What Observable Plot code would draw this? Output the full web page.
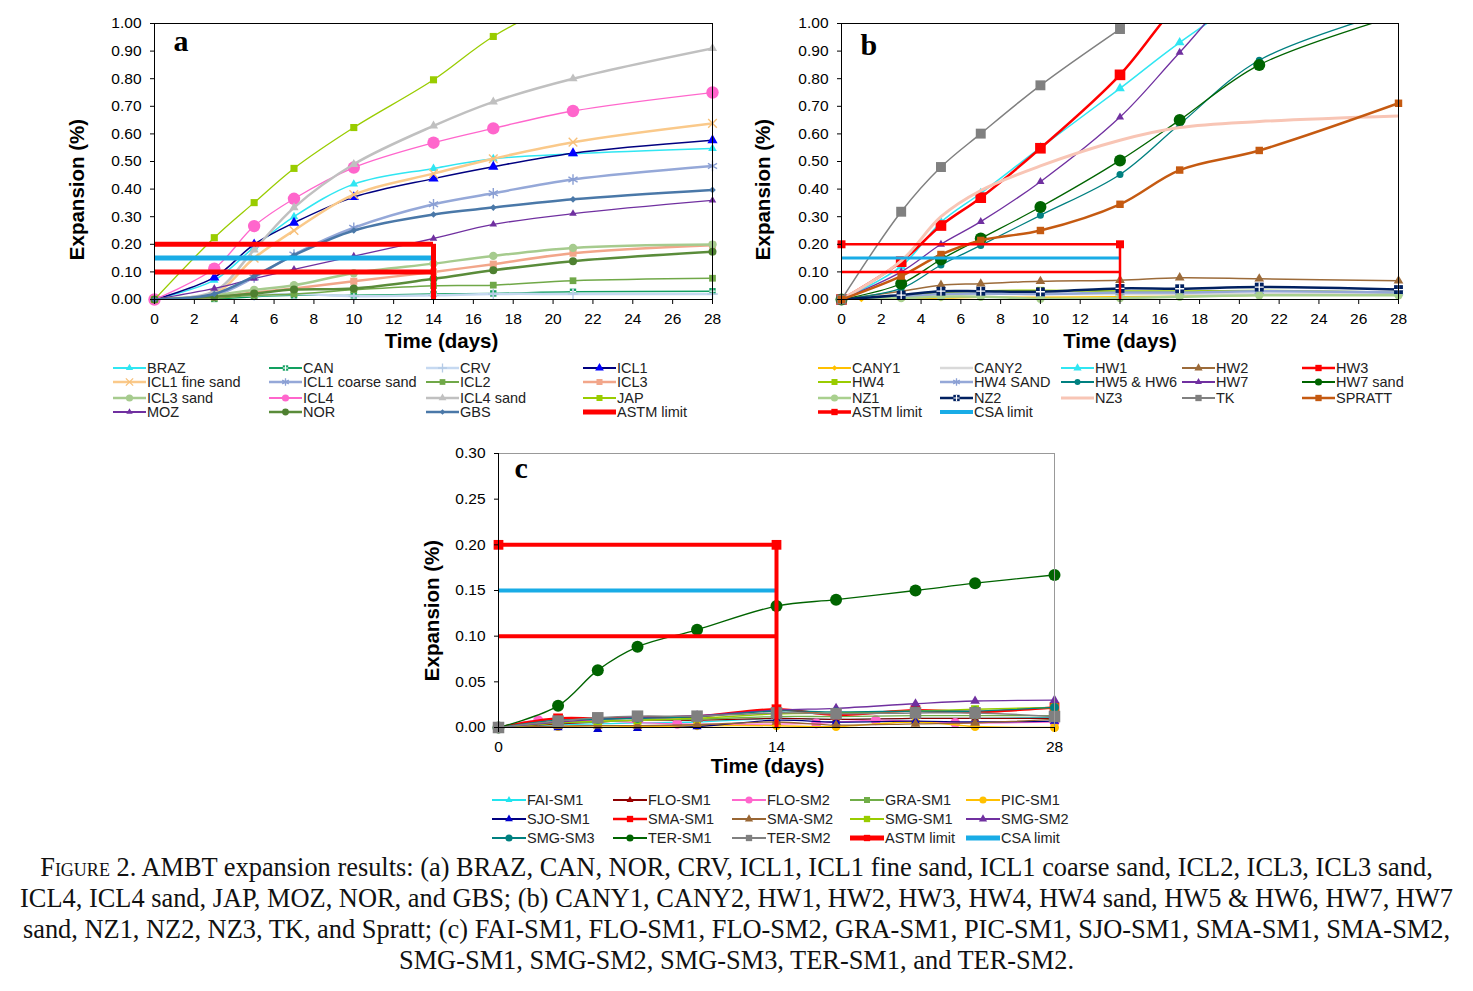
<!DOCTYPE html>
<html><head><meta charset="utf-8">
<script src="https://cdn.jsdelivr.net/npm/d3@7"></script>
<script src="https://cdn.jsdelivr.net/npm/@observablehq/plot@0.6"></script>
<style>
body{margin:0;background:#fff;}
#page{position:relative;width:1473px;height:991px;overflow:hidden;background:#fff;font-family:"Liberation Sans",Arial,sans-serif;}
.panel{position:absolute;}
.leg{position:absolute;font-size:14.5px;color:#222;white-space:nowrap;height:16px;line-height:16px;}
.leg svg{position:absolute;left:0;top:0;}
.leg span{position:absolute;top:0;}
#cap{position:absolute;left:0;top:852px;width:1473px;text-align:center;font-family:"Liberation Serif","Times New Roman",serif;font-size:26.4px;line-height:31px;color:#111;}
</style>
</head><body><div id="page"></div>
<script>
// ---------- shared ticks and limits ----------
const xTicksAB = [0, 2, 4, 6, 8, 10, 12, 14, 16, 18, 20, 22, 24, 26, 28];
const yTicksAB = [0, 0.1, 0.2, 0.3, 0.4, 0.5, 0.6, 0.7, 0.8, 0.9, 1.0];
const xTicksC = [0, 14, 28];
const yTicksC = [0, 0.05, 0.10, 0.15, 0.20, 0.25, 0.30];
const astmLimits = [0.10, 0.20];
const csaLimit = [0.15];
const limitStart = 0;
const limitDay = 14;

// ---------- panel a ----------
const daysA = [0, 3, 5, 7, 10, 14, 17, 21, 28];
const BRAZ        = [0, 0.070, 0.190, 0.300, 0.418, 0.475, 0.510, 0.528, 0.547];
const CAN         = [0, 0.002, 0.010, 0.015, 0.015, 0.020, 0.022, 0.028, 0.030];
const CRV         = [0, 0.010, 0.015, 0.020, 0.012, 0.015, 0.020, 0.020, 0.020];
const ICL1        = [0, 0.080, 0.200, 0.278, 0.371, 0.438, 0.481, 0.530, 0.577];
const ICL1_fine   = [0, 0.020, 0.150, 0.250, 0.380, 0.456, 0.510, 0.570, 0.638];
const ICL1_coarse = [0, 0.015, 0.080, 0.163, 0.260, 0.345, 0.385, 0.435, 0.484];
const ICL2        = [0, 0.005, 0.015, 0.020, 0.035, 0.050, 0.052, 0.068, 0.077];
const ICL3        = [0, 0.010, 0.025, 0.040, 0.066, 0.100, 0.128, 0.168, 0.197];
const ICL3_sand   = [0, 0.015, 0.035, 0.052, 0.095, 0.130, 0.158, 0.187, 0.199];
const ICL4        = [0, 0.112, 0.266, 0.365, 0.478, 0.568, 0.620, 0.683, 0.750];
const ICL4_sand   = [0, 0.030, 0.180, 0.333, 0.490, 0.629, 0.716, 0.800, 0.910];
const JAP         = [0, 0.224, 0.351, 0.475, 0.623, 0.796, 0.953, 1.100, 1.300];
const MOZ         = [0, 0.040, 0.076, 0.109, 0.157, 0.221, 0.272, 0.311, 0.359];
const NOR         = [0, 0.010, 0.022, 0.036, 0.040, 0.075, 0.106, 0.139, 0.173];
const GBS         = [0, 0.020, 0.085, 0.160, 0.250, 0.308, 0.333, 0.363, 0.397];

// ---------- panel b ----------
const daysB = [0, 3, 5, 7, 10, 14, 17, 21, 28];
const daysCANY1 = [0, 1, 3, 5, 7, 10, 14, 17, 21, 28];
const daysTK = [0, 3, 5, 7, 10, 14];
const CANY1    = [0, 0.002, 0.004, 0.005, 0.008, 0.008, 0.010, 0.012, 0.015, 0.015];
const CANY2    = [0, 0.010, 0.015, 0.020, 0.020, 0.020, 0.020, 0.020, 0.020];
const HW1      = [0, 0.120, 0.280, 0.385, 0.550, 0.765, 0.931, 1.120, 1.350];
const HW2      = [0, 0.030, 0.052, 0.057, 0.066, 0.070, 0.079, 0.075, 0.068];
const HW3      = [0, 0.137, 0.268, 0.369, 0.548, 0.814, 1.080, 1.350, 1.700];
const HW4      = [0, 0.010, 0.025, 0.030, 0.033, 0.030, 0.030, 0.032, 0.025];
const HW4_SAND = [0, 0.010, 0.020, 0.022, 0.020, 0.025, 0.025, 0.030, 0.025];
const HW5_HW6  = [0, 0.040, 0.125, 0.196, 0.305, 0.453, 0.635, 0.867, 1.050];
const HW7      = [0, 0.100, 0.200, 0.282, 0.427, 0.661, 0.895, 1.200, 1.500];
const HW7_sand = [0, 0.057, 0.145, 0.221, 0.335, 0.504, 0.650, 0.850, 1.030];
const NZ1      = [0, 0.005, 0.010, 0.010, 0.003, 0.005, 0.010, 0.015, 0.015];
const NZ2      = [0, 0.016, 0.030, 0.030, 0.028, 0.040, 0.039, 0.045, 0.036];
const NZ3      = [0, 0.140, 0.300, 0.395, 0.484, 0.577, 0.623, 0.645, 0.665];
const TK       = [0, 0.318, 0.480, 0.601, 0.776, 0.980];
const SPRATT   = [0, 0.085, 0.163, 0.214, 0.250, 0.345, 0.469, 0.540, 0.711];

// ---------- panel c ----------
const daysC = [0, 3, 5, 7, 10, 14, 17, 21, 24, 28];
const daysFLO2 = [0, 2, 9, 16, 19, 23, 28];
const FAI_SM1 = [0, 0.003, 0.004, 0.005, 0.006, 0.010, 0.009, 0.010, 0.010, 0.011];
const FLO_SM1 = [0, 0.004, 0.006, 0.008, 0.008, 0.010, 0.009, 0.010, 0.010, 0.010];
const FLO_SM2 = [0, 0.008, 0.004, 0.0045, 0.008, 0.005, 0.006];
const GRA_SM1 = [0, 0.005, 0.006, 0.008, 0.009, 0.012, 0.012, 0.013, 0.013, 0.013];
const PIC_SM1 = [0, 0.001, 0.002, 0.001, 0.002, 0.002, 0.001, 0.006, 0.001, 0.000];
const SJO_SM1 = [0, 0.000, -0.002, -0.001, 0.001, 0.008, 0.006, 0.007, 0.006, 0.007];
const SMA_SM1 = [0, 0.010, 0.010, 0.011, 0.012, 0.020, 0.014, 0.019, 0.017, 0.022];
const SMA_SM2 = [0, 0.0015, 0.002, 0.002, 0.003, 0.006, 0.0026, 0.004, 0.005, 0.009];
const SMG_SM1 = [0, 0.005, 0.007, 0.008, 0.010, 0.015, 0.016, 0.018, 0.020, 0.022];
const SMG_SM2 = [0, 0.006, 0.009, 0.011, 0.013, 0.019, 0.021, 0.026, 0.029, 0.030];
const SMG_SM3 = [0, 0.008, 0.009, 0.010, 0.012, 0.018, 0.017, 0.018, 0.018, 0.022];
const TER_SM1 = [0, 0.0237, 0.0628, 0.0883, 0.107, 0.133, 0.140, 0.150, 0.158, 0.167];
const TER_SM2 = [0, 0.007, 0.0106, 0.0124, 0.0124, 0.016, 0.015, 0.016, 0.016, 0.012];

// ---------- series lists ----------
const seriesA = [
  {name: "BRAZ", days: daysA, values: BRAZ},
  {name: "CAN", days: daysA, values: CAN},
  {name: "CRV", days: daysA, values: CRV},
  {name: "ICL1", days: daysA, values: ICL1},
  {name: "ICL1 fine sand", days: daysA, values: ICL1_fine},
  {name: "ICL1 coarse sand", days: daysA, values: ICL1_coarse},
  {name: "ICL2", days: daysA, values: ICL2},
  {name: "ICL3", days: daysA, values: ICL3},
  {name: "ICL3 sand", days: daysA, values: ICL3_sand},
  {name: "ICL4", days: daysA, values: ICL4},
  {name: "ICL4 sand", days: daysA, values: ICL4_sand},
  {name: "JAP", days: daysA, values: JAP},
  {name: "MOZ", days: daysA, values: MOZ},
  {name: "NOR", days: daysA, values: NOR},
  {name: "GBS", days: daysA, values: GBS}
];
const seriesB = [
  {name: "CANY1", days: daysCANY1, values: CANY1},
  {name: "CANY2", days: daysB, values: CANY2},
  {name: "HW1", days: daysB, values: HW1},
  {name: "HW2", days: daysB, values: HW2},
  {name: "HW3", days: daysB, values: HW3},
  {name: "HW4", days: daysB, values: HW4},
  {name: "HW4 SAND", days: daysB, values: HW4_SAND},
  {name: "HW5 & HW6", days: daysB, values: HW5_HW6},
  {name: "HW7", days: daysB, values: HW7},
  {name: "HW7 sand", days: daysB, values: HW7_sand},
  {name: "NZ1", days: daysB, values: NZ1},
  {name: "NZ2", days: daysB, values: NZ2},
  {name: "NZ3", days: daysB, values: NZ3},
  {name: "TK", days: daysTK, values: TK},
  {name: "SPRATT", days: daysB, values: SPRATT}
];
const seriesC = [
  {name: "FAI-SM1", days: daysC, values: FAI_SM1},
  {name: "FLO-SM1", days: daysC, values: FLO_SM1},
  {name: "FLO-SM2", days: daysFLO2, values: FLO_SM2},
  {name: "GRA-SM1", days: daysC, values: GRA_SM1},
  {name: "PIC-SM1", days: daysC, values: PIC_SM1},
  {name: "SJO-SM1", days: daysC, values: SJO_SM1},
  {name: "SMA-SM1", days: daysC, values: SMA_SM1},
  {name: "SMA-SM2", days: daysC, values: SMA_SM2},
  {name: "SMG-SM1", days: daysC, values: SMG_SM1},
  {name: "SMG-SM2", days: daysC, values: SMG_SM2},
  {name: "SMG-SM3", days: daysC, values: SMG_SM3},
  {name: "TER-SM1", days: daysC, values: TER_SM1},
  {name: "TER-SM2", days: daysC, values: TER_SM2}
];

// ---------- styles ----------
const RED = "#FF0000", CSA = "#19ACE6";
const styleA = {
  "BRAZ": {line: "#30E6F2", fill: "#30E6F2", sym: "triangle", r: 3.2, w: 1.5},
  "CAN": {line: "#12A060", fill: "#12A060", sym: "square", r: 3.6, w: 1.5, cross: true},
  "CRV": {line: "#C6D9F1", fill: "#B5CBE6", sym: "plus", r: 3.5, w: 2.5},
  "ICL1": {line: "#000080", fill: "#0000FF", sym: "triangle", r: 3.8, w: 1.5},
  "ICL1 fine sand": {line: "#FAC98A", fill: "#F7C07A", sym: "times", r: 4, w: 2.5},
  "ICL1 coarse sand": {line: "#95A8D8", fill: "#8A9FD4", sym: "asterisk", r: 5, w: 2.5},
  "ICL2": {line: "#70A848", fill: "#70A848", sym: "square", r: 3.8, w: 1.5},
  "ICL3": {line: "#F2A68A", fill: "#F2A68A", sym: "square", r: 4, w: 2.5},
  "ICL3 sand": {line: "#A6CB8E", fill: "#A6CB8E", sym: "circle", r: 4.2, w: 2.5},
  "ICL4": {line: "#FF66CC", fill: "#FF66CC", sym: "circle", r: 6.2, w: 1.3},
  "ICL4 sand": {line: "#C0C0C0", fill: "#C0C0C0", sym: "triangle", r: 3.4, w: 2.5},
  "JAP": {line: "#99CC00", fill: "#99CC00", sym: "square", r: 4, w: 1.3},
  "MOZ": {line: "#7030A0", fill: "#7030A0", sym: "triangle", r: 2.8, w: 1.3},
  "NOR": {line: "#5A8C3A", fill: "#4E8030", sym: "circle", r: 4, w: 2.5},
  "GBS": {line: "#4A78A8", fill: "#4A78A8", sym: "diamond2", r: 3, w: 2.5},
  "ASTM limit": {line: RED, w: 5}
};
const styleB = {
  "CANY1": {line: "#FFC000", fill: "#FFC000", sym: "diamond2", r: 3, w: 1.5},
  "CANY2": {line: "#D9D9D9", w: 2.5},
  "HW1": {line: "#30E6F2", fill: "#30E6F2", sym: "triangle", r: 3.6, w: 1.5},
  "HW2": {line: "#9C6B3A", fill: "#9C6B3A", sym: "triangle", r: 3.6, w: 1.5},
  "HW3": {line: RED, fill: RED, sym: "square", r: 6, w: 2.5},
  "HW4": {line: "#99CC00", fill: "#99CC00", sym: "square", r: 4, w: 2},
  "HW4 SAND": {line: "#95A8D8", fill: "#8A9FD4", sym: "asterisk", r: 5, w: 2.5},
  "HW5 & HW6": {line: "#008080", fill: "#008080", sym: "circle", r: 3.5, w: 1.3},
  "HW7": {line: "#7030A0", fill: "#7030A0", sym: "triangle", r: 3, w: 1.3},
  "HW7 sand": {line: "#006400", fill: "#006400", sym: "circle", r: 6, w: 1.3},
  "NZ1": {line: "#A9D08E", fill: "#A9D08E", sym: "circle", r: 4.2, w: 2.5},
  "NZ2": {line: "#002060", fill: "#002060", sym: "square", r: 5, w: 2.5, cross: true},
  "NZ3": {line: "#F8C5B5", w: 3},
  "TK": {line: "#808080", fill: "#808080", sym: "square", r: 5.6, w: 1.5},
  "SPRATT": {line: "#C55A11", fill: "#C55A11", sym: "square", r: 4.2, w: 2.5},
  "ASTM limit": {line: RED, fill: RED, sym: "square", r: 4.5, w: 2.5},
  "CSA limit": {line: CSA, w: 3}
};
const styleC = {
  "FAI-SM1": {line: "#22E4EE", fill: "#22E4EE", sym: "triangle", r: 3, w: 1.3},
  "FLO-SM1": {line: "#8B0000", fill: "#A00000", sym: "triangle", r: 3, w: 1.3},
  "FLO-SM2": {line: "#FF66CC", fill: "#FF66CC", sym: "circle", r: 5, w: 1.3},
  "GRA-SM1": {line: "#70AD47", fill: "#70AD47", sym: "square", r: 4, w: 1.3},
  "PIC-SM1": {line: "#FFC000", fill: "#FFC000", sym: "circle", r: 4.5, w: 1.5},
  "SJO-SM1": {line: "#000080", fill: "#0000CC", sym: "triangle", r: 3.4, w: 1.3},
  "SMA-SM1": {line: RED, fill: RED, sym: "square", r: 5.5, w: 2.5},
  "SMA-SM2": {line: "#996633", fill: "#996633", sym: "triangle", r: 3.6, w: 1.3},
  "SMG-SM1": {line: "#99CC00", fill: "#99CC00", sym: "square", r: 4.5, w: 1.5},
  "SMG-SM2": {line: "#7030A0", fill: "#7030A0", sym: "triangle", r: 3.6, w: 1.3},
  "SMG-SM3": {line: "#008080", fill: "#008080", sym: "circle", r: 4.5, w: 1.3},
  "TER-SM1": {line: "#006400", fill: "#006400", sym: "circle", r: 6, w: 1.3},
  "TER-SM2": {line: "#808080", fill: "#808080", sym: "square", r: 6.5, w: 1.5},
  "ASTM limit": {line: RED, fill: RED, sym: "square", r: 5.5, w: 4},
  "CSA limit": {line: CSA, w: 4}
};

const STROKED = ["times", "asterisk", "plus"];
const FONT = "'Liberation Sans', Arial, sans-serif";

function makePanel(cfg) {
  const marks = [];
  for (const s of cfg.series) {
    const st = cfg.styles[s.name];
    const rows = s.days.map((d, i) => ({day: d, value: s.values[i]}));
    marks.push(Plot.line(rows, {x: "day", y: "value", stroke: st.line, strokeWidth: st.w, curve: "catmull-rom", clip: true}));
    if (st.sym) {
      const vis = rows.filter(r => r.value <= cfg.yMax);
      const stroked = STROKED.includes(st.sym);
      marks.push(Plot.dot(vis, {x: "day", y: "value", symbol: st.sym, r: st.r,
        fill: stroked ? "none" : st.fill, stroke: stroked ? st.fill : "none", strokeWidth: stroked ? 1.4 : 0}));
      if (st.cross) marks.push(Plot.dot(vis, {x: "day", y: "value", symbol: "plus", r: st.r * 0.6, stroke: "#fff", strokeWidth: 1.3}));
    }
  }
  // limits
  marks.push(Plot.ruleY(csaLimit, {y: d => d, x1: () => limitStart, x2: () => limitDay, stroke: CSA, strokeWidth: cfg.csaW}));
  marks.push(Plot.ruleY(astmLimits, {y: d => d, x1: () => limitStart, x2: () => limitDay, stroke: RED, strokeWidth: cfg.astmW}));
  marks.push(Plot.ruleX([limitDay], {x: d => d, y1: () => 0, y2: () => astmLimits[1], stroke: RED, strokeWidth: cfg.astmW}));
  if (cfg.astmDots) {
    marks.push(Plot.dot([limitStart, limitDay], {x: d => d, y: () => astmLimits[1], symbol: "square", r: cfg.astmDots, fill: RED}));
  }
  // frame & axes
  marks.push(Plot.frame({stroke: cfg.frameColor, strokeWidth: 1}));
  if (cfg.axisLines) {
    marks.push(Plot.ruleX([0], {stroke: "#000"}));
    marks.push(Plot.ruleY([0], {stroke: "#000"}));
  }
  marks.push(Plot.axisX({ticks: cfg.xTicks, tickSize: 5, tickPadding: 8, label: null, tickFormat: d => String(d)}));
  marks.push(Plot.axisY({ticks: cfg.yTicks, tickSize: 4, tickPadding: 9, label: null, tickFormat: d3.format(".2f")}));
  // titles
  marks.push(Plot.text(["Expansion (%)"], {frameAnchor: "left", rotate: -90, textAnchor: "middle", lineAnchor: "middle",
    dx: cfg.yLab[0], dy: cfg.yLab[1], fontSize: 20.5, fontWeight: "bold", fill: "#000"}));
  marks.push(Plot.text(["Time (days)"], {frameAnchor: "bottom", textAnchor: "middle", lineAnchor: "middle",
    dx: cfg.xLab[0], dy: cfg.xLab[1], fontSize: 20.5, fontWeight: "bold", fill: "#000"}));
  marks.push(Plot.text([cfg.letter], {frameAnchor: "top-left", textAnchor: "start", lineAnchor: "top",
    dx: cfg.let[0], dy: cfg.let[1], fontSize: 30, fontWeight: "bold", fontFamily: "'Liberation Serif', 'Times New Roman', serif", fill: "#000"}));

  const svg = Plot.plot({
    width: cfg.width, height: cfg.height,
    marginLeft: cfg.m[0], marginTop: cfg.m[1], marginRight: cfg.m[2], marginBottom: cfg.m[3],
    x: {domain: [0, 28]}, y: {domain: [0, cfg.yMax]},
    style: {fontFamily: FONT, fontSize: "15.5px", color: "#000", background: "transparent", overflow: "visible"},
    marks
  });
  const div = document.createElement("div");
  div.className = "panel";
  div.style.left = cfg.left + "px";
  div.style.top = cfg.top + "px";
  div.appendChild(svg);
  document.getElementById("page").appendChild(div);
}

makePanel({series: seriesA, styles: styleA, yMax: 1.0, xTicks: xTicksAB, yTicks: yTicksAB,
  left: 0, top: 0, width: 740, height: 352, m: [154, 23, 28, 53], frameColor: "#000", axisLines: false,
  astmW: 5, csaW: 5, astmDots: 0, yLab: [-77, 28], xLab: [8, 42], letter: "a", let: [19, 6]});
makePanel({series: seriesB, styles: styleB, yMax: 1.0, xTicks: xTicksAB, yTicks: yTicksAB,
  left: 740, top: 0, width: 733, height: 352, m: [101, 23, 75, 53], frameColor: "#000", axisLines: false,
  astmW: 2.5, csaW: 3, astmDots: 4.5, yLab: [-78, 28], xLab: [0, 42], letter: "b", let: [19, 10]});
makePanel({series: seriesC, styles: styleC, yMax: 0.30, xTicks: xTicksC, yTicks: yTicksC,
  left: 380, top: 440, width: 720, height: 340, m: [118, 13, 46, 53], frameColor: "#999", axisLines: true,
  astmW: 4, csaW: 4, astmDots: 5.5, yLab: [-66, 20], xLab: [-9, 39], letter: "c", let: [16, 3]});

// ---------- legends ----------
const legendA = ["BRAZ","CAN","CRV","ICL1","ICL1 fine sand","ICL1 coarse sand","ICL2","ICL3","ICL3 sand","ICL4","ICL4 sand","JAP","MOZ","NOR","GBS","ASTM limit"];
const legendB = ["CANY1","CANY2","HW1","HW2","HW3","HW4","HW4 SAND","HW5 & HW6","HW7","HW7 sand","NZ1","NZ2","NZ3","TK","SPRATT","ASTM limit","CSA limit"];
const legendC = ["FAI-SM1","FLO-SM1","FLO-SM2","GRA-SM1","PIC-SM1","SJO-SM1","SMA-SM1","SMA-SM2","SMG-SM1","SMG-SM2","SMG-SM3","TER-SM1","TER-SM2","ASTM limit","CSA limit"];
const SYM = {circle: d3.symbolCircle, square: d3.symbolSquare, triangle: d3.symbolTriangle, diamond2: d3.symbolDiamond2,
  times: d3.symbolTimes, asterisk: d3.symbolAsterisk, plus: d3.symbolPlus};

function makeLegend(names, styles, cols, rowY, swW) {
  const page = d3.select("#page");
  names.forEach((name, i) => {
    const st = styles[name];
    const c = i % cols.length, r = Math.floor(i / cols.length);
    const item = page.append("div").attr("class", "leg")
      .style("left", cols[c] + "px").style("top", (rowY[r] - 8) + "px");
    const svg = item.append("svg").attr("width", swW).attr("height", 16);
    const lw = name === "ASTM limit" || name === "CSA limit" ? Math.min(st.w + 1, 5) : Math.max(2, Math.min(st.w, 3));
    svg.append("line").attr("x1", 0).attr("x2", swW).attr("y1", 8).attr("y2", 8)
      .attr("stroke", st.line).attr("stroke-width", lw);
    if (st.sym) {
      const rr = Math.min(st.r, 4.2) * 0.85;
      const stroked = STROKED.includes(st.sym);
      svg.append("path").attr("transform", `translate(${swW / 2},8)`)
        .attr("d", d3.symbol(SYM[st.sym], Math.PI * rr * rr)())
        .attr("fill", stroked ? "none" : st.fill).attr("stroke", stroked ? st.fill : "none").attr("stroke-width", 1.3);
      if (st.cross) svg.append("path").attr("transform", `translate(${swW / 2},8)`)
        .attr("d", d3.symbol(d3.symbolPlus, Math.PI * rr * rr * 0.36)()).attr("stroke", "#fff").attr("stroke-width", 1.2).attr("fill", "none");
    }
    item.append("span").style("left", (swW + 1) + "px").text(name);
  });
}
makeLegend(legendA, styleA, [113, 269, 426, 583], [367.7, 382.3, 397.7, 412.3], 33);
makeLegend(legendB, styleB, [818, 940, 1061, 1182, 1302], [367.7, 382.3, 397.7, 412.3], 33);
makeLegend(legendC, styleC, [492, 613, 732, 850, 966], [800, 819, 838], 34);

// ---------- caption ----------
const cap = document.createElement("div");
cap.id = "cap";
cap.innerHTML = '<span style="font-variant:small-caps">Figure</span> 2. AMBT expansion results: (a) BRAZ, CAN, NOR, CRV, ICL1, ICL1 fine sand, ICL1 coarse sand, ICL2, ICL3, ICL3 sand,<br>' +
  'ICL4, ICL4 sand, JAP, MOZ, NOR, and GBS; (b) CANY1, CANY2, HW1, HW2, HW3, HW4, HW4 sand, HW5 &amp; HW6, HW7, HW7<br>' +
  'sand, NZ1, NZ2, NZ3, TK, and Spratt; (c) FAI-SM1, FLO-SM1, FLO-SM2, GRA-SM1, PIC-SM1, SJO-SM1, SMA-SM1, SMA-SM2,<br>' +
  'SMG-SM1, SMG-SM2, SMG-SM3, TER-SM1, and TER-SM2.';
document.getElementById("page").appendChild(cap);
</script>
</body></html>
